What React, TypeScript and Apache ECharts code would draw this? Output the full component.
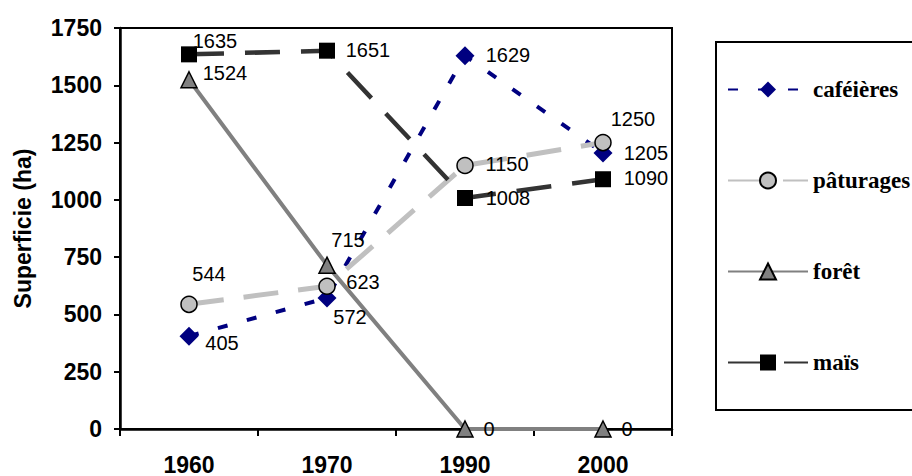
import React, { useEffect, useRef } from "react";
import * as echarts from "echarts";

const years = ["1960", "1970", "1990", "2000"];
const cafeieres = [405, 572, 1629, 1205];
const paturages = [544, 623, 1150, 1250];
const foret = [1524, 715, 0, 0];
const mais = [1635, 1651, 1008, 1090];
const yMin = 0;
const yMax = 1750;
const yInterval = 250;

const cafeieresOff = [[33, 7], [23, 19], [43, -1], [43, 0]];
const paturagesOff = [[20, -30], [36, -4], [42, -1], [30, -24]];
const foretOff = [[36, -7], [21, -25], [24, 0], [24, 0]];
const maisOff = [[26, -13], [41, -1], [43, 0], [43, -1]];

const mk = (vals: number[], offs: number[][]) =>
  vals.map((v, i) => ({ value: v, label: { offset: offs[i] } }));

const baseLabel = {
  show: true,
  position: "inside",
  color: "#000",
  fontSize: 20,
  fontFamily: "Liberation Sans, Arial, sans-serif",
  formatter: "{c}",
};

export default function App() {
  const ref = useRef<HTMLDivElement>(null);
  useEffect(() => {
    if (!ref.current) return;
    const chart = echarts.init(ref.current, undefined, { renderer: "svg" });
    chart.setOption({
      animation: false,
      backgroundColor: "#fff",
      grid: {
        left: 120,
        right: 240,
        top: 28,
        bottom: 46,
        show: true,
        borderColor: "#000",
        borderWidth: 2,
      },
      graphic: [
        {
          type: "rect",
          z: -1,
          shape: { x: 716, y: 42, width: 220, height: 368 },
          style: { fill: "#fff", stroke: "#000", lineWidth: 2 },
        },
      ],
      legend: {
        orient: "vertical",
        left: 727,
        top: 78,
        itemWidth: 80,
        itemHeight: 20,
        itemGap: 68,
        padding: 0,
        textStyle: {
          fontFamily: "Liberation Serif, Times New Roman, serif",
          fontWeight: "bold",
          fontSize: 23,
          color: "#000",
        },
        data: ["caféières", "pâturages", "forêt", "maïs"],
      },
      xAxis: {
        type: "category",
        data: years,
        boundaryGap: true,
        axisLine: { lineStyle: { color: "#000", width: 2.5 } },
        axisTick: { show: true, length: 7, lineStyle: { color: "#000", width: 2 } },
        axisLabel: {
          margin: 24,
          color: "#000",
          fontWeight: "bold",
          fontSize: 23,
          fontFamily: "Liberation Sans, Arial, sans-serif",
        },
        splitLine: { show: false },
      },
      yAxis: {
        type: "value",
        min: yMin,
        max: yMax,
        interval: yInterval,
        name: "Superficie (ha)",
        nameLocation: "middle",
        nameGap: 86,
        nameTextStyle: {
          color: "#000",
          fontWeight: "bold",
          fontSize: 23,
          fontFamily: "Liberation Sans, Arial, sans-serif",
        },
        axisLine: { show: true, lineStyle: { color: "#000", width: 2.5 } },
        axisTick: { show: true, length: 6, lineStyle: { color: "#000", width: 2 } },
        axisLabel: {
          margin: 18,
          color: "#000",
          fontWeight: "bold",
          fontSize: 23,
          fontFamily: "Liberation Sans, Arial, sans-serif",
          formatter: (v: number) => String(v),
        },
        splitLine: { show: false },
      },
      series: [
        {
          name: "caféières",
          type: "line",
          data: mk(cafeieres, cafeieresOff),
          symbol: "diamond",
          symbolSize: 19,
          lineStyle: { color: "#000080", width: 4, type: [10, 20] },
          itemStyle: { color: "#000080" },
          label: baseLabel,
        },
        {
          name: "pâturages",
          type: "line",
          data: mk(paturages, paturagesOff),
          symbol: "circle",
          symbolSize: 16,
          lineStyle: { color: "#c0c0c0", width: 5, type: [35, 20] },
          itemStyle: { color: "#c0c0c0", borderColor: "#000", borderWidth: 1.5 },
          label: baseLabel,
        },
        {
          name: "forêt",
          type: "line",
          data: mk(foret, foretOff),
          symbol: "triangle",
          symbolSize: 16,
          lineStyle: { color: "#808080", width: 4 },
          itemStyle: { color: "#808080", borderColor: "#000", borderWidth: 1.5 },
          label: baseLabel,
        },
        {
          name: "maïs",
          type: "line",
          data: mk(mais, maisOff),
          symbol: "rect",
          symbolSize: 16,
          lineStyle: { color: "#333333", width: 4.5, type: [35, 21] },
          itemStyle: { color: "#000" },
          label: baseLabel,
        },
      ],
    });
    return () => chart.dispose();
  }, []);
  return (
    <div
      ref={ref}
      style={{ position: "absolute", left: 0, top: 0, width: 912, height: 476 }}
    />
  );
}
